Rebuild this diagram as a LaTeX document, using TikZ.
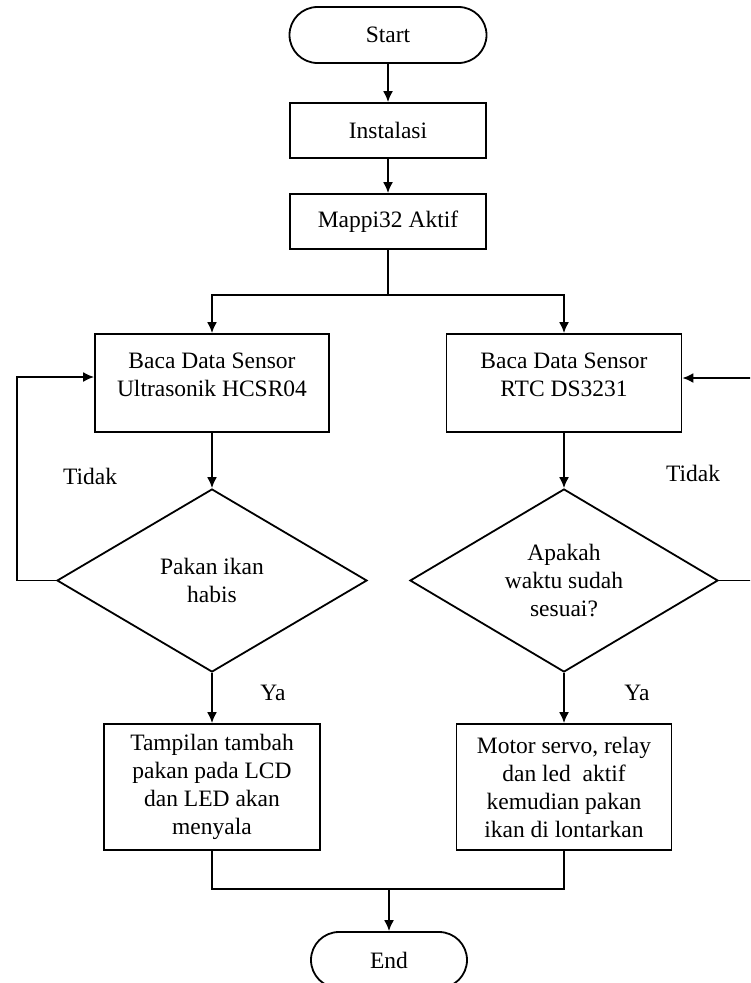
\documentclass[tikz,border=0pt]{standalone}
\usepackage{fontspec}
\setmainfont{Liberation Serif}
\usetikzlibrary{arrows.meta,shapes.geometric}

\begin{document}
\begin{tikzpicture}[x=1pt,y=-1pt,line width=1.8pt,
  font=\fontsize{23.5}{28}\selectfont,
  >={Latex[length=11pt,width=10pt]},
  kotak/.style={draw,rectangle,align=center,inner sep=0pt},
  terminal/.style={draw,rectangle,rounded corners=28pt,minimum width=#1,minimum height=56pt},
  keputusan/.style={draw,diamond,aspect=1.7,align=center,inner sep=0pt,minimum width=310pt,minimum height=183pt},
  teksatas/.style={align=center,yshift=8pt}]
\useasboundingbox (0,0) rectangle (750,983);
\clip (0,0) rectangle (750,983);

% alur utama
\node[terminal=197pt] (start) at (388,35) {Start};
\node[kotak,minimum width=196pt,minimum height=55pt] (inst) at (388,130.5) {Instalasi};
\node[kotak,minimum width=196pt,minimum height=55pt] (mappi) at (388,221.5) {Mappi32 Aktif};
\coordinate (cabang) at (388,295);

% cabang kiri dan kanan
\node[kotak,minimum width=234pt,minimum height=98pt,
  label={[teksatas]center:{Baca Data Sensor\\Ultrasonik HCSR04}}] (ultra) at (212,383) {};
\node[kotak,minimum width=235pt,minimum height=98pt,
  label={[teksatas]center:{Baca Data Sensor\\RTC DS3231}}] (rtc) at (564,383) {};
\node[keputusan] (habis) at (212,580.5) {Pakan ikan\\habis};
\node[keputusan,minimum width=308pt] (waktu) at (564,580.5) {Apakah\\waktu sudah\\sesuai?};
\node[kotak,minimum width=216pt,minimum height=126pt] (lcd) at (212,787)
  {Tampilan tambah\\pakan pada LCD\\dan LED akan\\menyala};
\node[kotak,minimum width=215pt,minimum height=126pt] (servo) at (564,787)
  {Motor servo, relay\\dan led\ \ aktif\\kemudian pakan\\ikan di lontarkan};

\coordinate (gabung) at (389,889);
\node[terminal=156pt] (end) at (389,960) {End};

% keterangan
\node (tidak1) at (90,476) {Tidak};
\node (tidak2) at (693,473) {Tidak};
\node (ya1) at (273,693) {Ya};
\node (ya2) at (637,693) {Ya};

\coordinate (kiri) at (17,377);
\coordinate (kanan) at (760,378);

% panah
\draw[->] (start) -- (inst);
\draw[->] (inst) -- (mappi);
\draw (mappi) -- (cabang);
\draw[->] (cabang) -| (ultra);
\draw[->] (cabang) -| (rtc);
\draw[->] (ultra) -- (habis);
\draw[->] (rtc) -- (waktu);
\draw[->] (habis) -- (lcd);
\draw[->] (waktu) -- (servo);
\draw[->] (habis.west) -| (kiri) -- (kiri -| ultra.west);
\draw[->] (waktu.east) -| (kanan) -- (kanan -| rtc.east);
\draw (lcd) |- (gabung);
\draw (servo) |- (gabung);
\draw[->] (gabung) -- (end);
\end{tikzpicture}
\end{document}
